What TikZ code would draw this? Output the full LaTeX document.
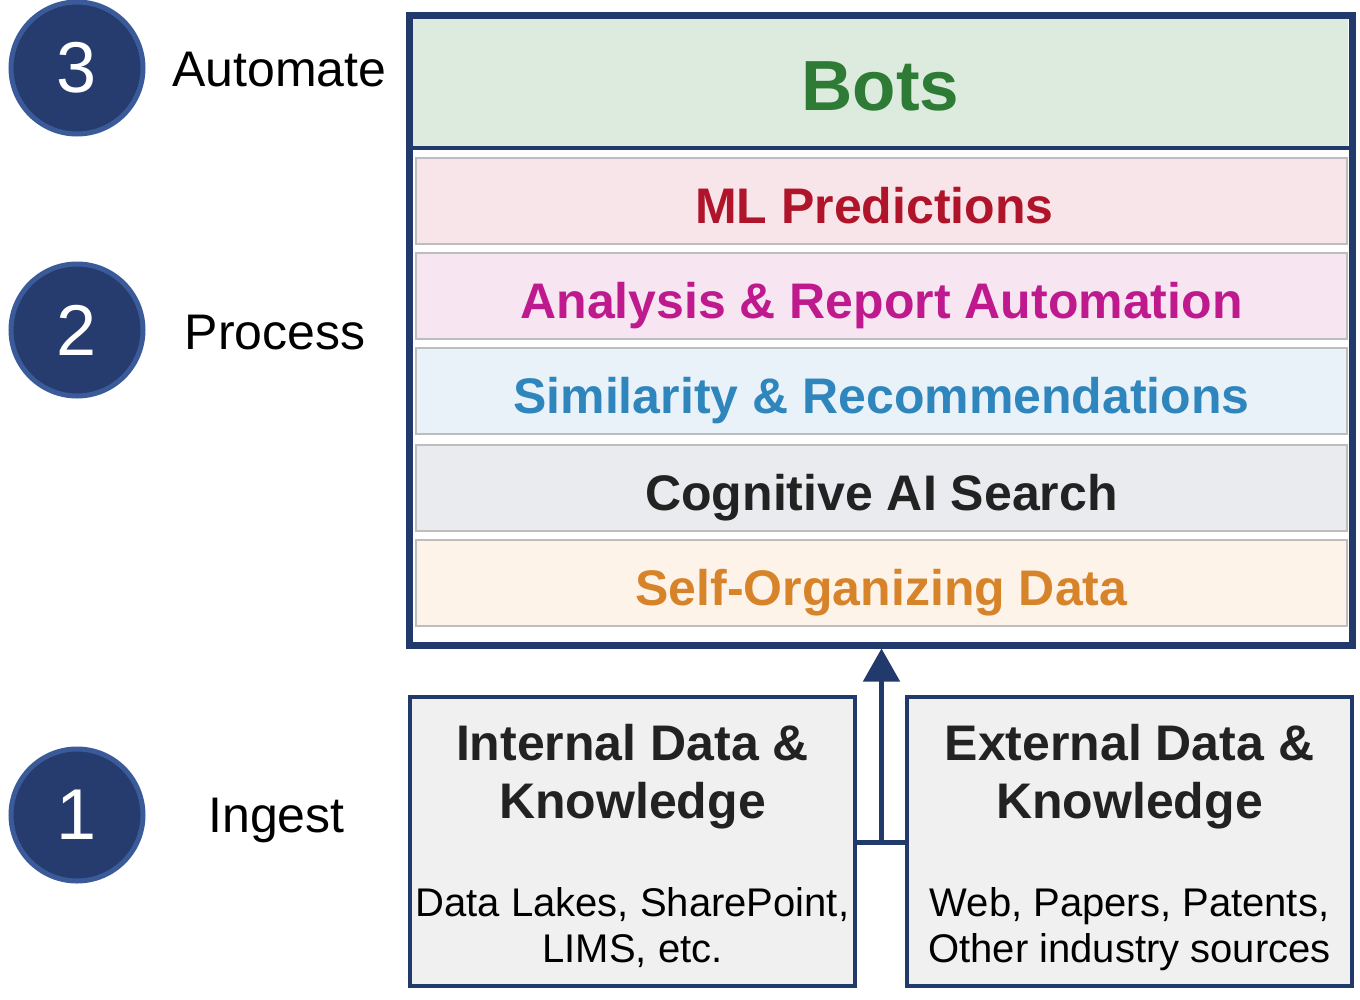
\documentclass[tikz,border=0pt]{standalone}
\usepackage{fontspec}
\setmainfont{Liberation Sans}
\usetikzlibrary{arrows.meta}
\definecolor{navy}{HTML}{223A6B}
\definecolor{circfill}{HTML}{263C6E}
\definecolor{circring}{HTML}{3B5A9A}
\definecolor{botsgreen}{HTML}{2E7B36}
\definecolor{botsfill}{HTML}{DDEBDF}
\definecolor{mlred}{HTML}{B0142A}
\definecolor{mlfill}{HTML}{F8E5E9}
\definecolor{anmag}{HTML}{BE1A8E}
\definecolor{anfill}{HTML}{F8E5F2}
\definecolor{simblue}{HTML}{2F86BC}
\definecolor{simfill}{HTML}{E9F2F9}
\definecolor{cogtext}{HTML}{222222}
\definecolor{cogfill}{HTML}{E9EBEF}
\definecolor{selforange}{HTML}{D7832A}
\definecolor{selffill}{HTML}{FDF3E9}
\definecolor{laygray}{HTML}{BDBDBD}
\definecolor{boxfill}{HTML}{F0F0F0}
\begin{document}
\begin{tikzpicture}[x=1pt,y=-1pt,
  layer/.style={draw=laygray, line width=2pt, minimum width=931pt, minimum height=86pt,
    inner sep=0pt, text height=44pt, text depth=0pt,
    font=\fontsize{50}{60}\selectfont\bfseries},
  circ/.style={circle, fill=circfill, draw=circring, line width=5pt, minimum size=132pt,
    inner sep=0pt, text=white, font=\fontsize{72}{80}\selectfont},
  steplabel/.style={font=\fontsize{50}{60}\selectfont, text=black, inner sep=0pt},
  srcbox/.style={draw=navy, fill=boxfill, line width=4pt, minimum width=445pt, minimum height=289pt, inner sep=0pt},
  srctitle/.style={anchor=base, inner sep=0pt, text=cogtext, font=\fontsize{50}{58}\selectfont\bfseries},
  srcsub/.style={anchor=base, inner sep=0pt, text=black, font=\fontsize{40}{46}\selectfont},
  conn/.style={draw=navy, line width=5pt}
]
\useasboundingbox (0,0) rectangle (1360,999);
% outer container
\node[draw=navy, line width=7pt, minimum width=943pt, minimum height=630pt, inner sep=0pt] (outer) at (880.5,330) {};
% Bots panel
\node[fill=botsfill, minimum width=935pt, minimum height=128pt, inner sep=0pt,
  text=botsgreen, text height=55pt, text depth=0pt, font=\fontsize{71}{80}\selectfont\bfseries] (bots) at (880.5,83) {Bots};
\draw[draw=navy, line width=4pt] (outer.west |- 0,148) -- (outer.east |- 0,148);
% layers
\node[layer, fill=mlfill, text=mlred] (ml) at (881.5,201) {ML Predictions\kern14pt};
\node[layer, fill=anfill, text=anmag] (an) at (881.5,296) {Analysis \& Report Automation};
\node[layer, fill=simfill, text=simblue] (sim) at (881.5,391) {Similarity \& Recommendations};
\node[layer, fill=cogfill, text=cogtext] (cog) at (881.5,488) {Cognitive AI Search};
\node[layer, fill=selffill, text=selforange] (self) at (881.5,583) {Self-Organizing Data};
% step circles
\node[circ] (c3) at (77,68) {3};
\node[circ] (c2) at (77,330) {2};
\node[circ] (c1) at (77,815) {1};
\node[steplabel] (l3) at (279.5,70) {Automate};
\node[steplabel] (l2) at (275,333) {Process};
\node[steplabel] (l1) at (276.5,820) {Ingest};
% source boxes
\node[srcbox] (int) at (632.5,841.5) {};
\node[srcbox] (ext) at (1129.5,841.5) {};
\node[srctitle] (intt1) at (632.5,760) {Internal Data \&};
\node[srctitle] (intt2) at (632.5,818) {Knowledge};
\node[srcsub] (ints1) at (632.5,916) {Data Lakes, SharePoint,};
\node[srcsub] (ints2) at (632.5,962) {LIMS, etc.};
\node[srctitle] (extt1) at (1129.5,760) {External Data \&};
\node[srctitle] (extt2) at (1129.5,818) {Knowledge};
\node[srcsub] (exts1) at (1129.5,916) {Web, Papers, Patents,};
\node[srcsub] (exts2) at (1129.5,962) {Other industry sources};
% connector
\coordinate (join) at (881.5,842);
\draw[conn] (int.east |- join) -- (ext.west |- join);
\draw[conn, -{Triangle[width=36pt,length=33pt]}] (join) -- (outer.south -| join);
\end{tikzpicture}
\end{document}
